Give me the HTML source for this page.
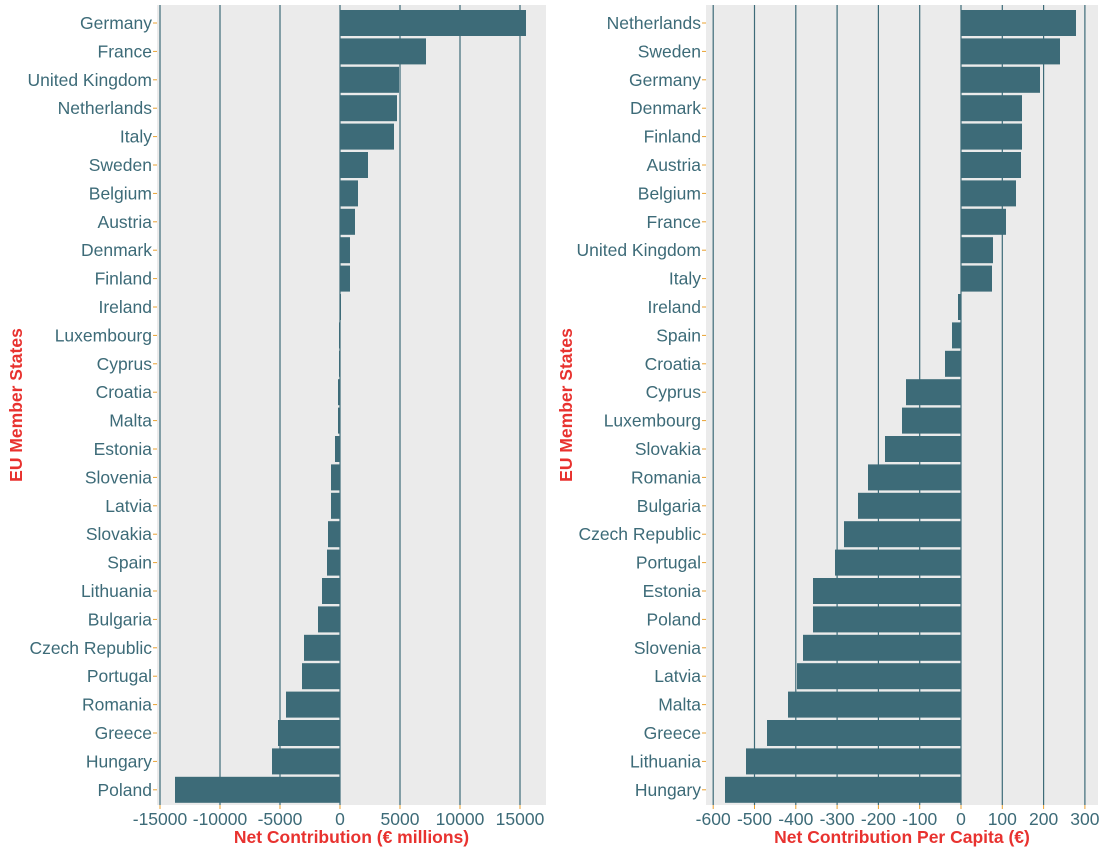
<!DOCTYPE html><html><head><style>body{margin:0;background:#fff}svg text{font-family:"Liberation Sans",sans-serif}</style></head><body>
<svg width="1100" height="850" xmlns="http://www.w3.org/2000/svg" id="s"></svg>
<script>
const s=document.getElementById('s');let h='';
function panel(L,R,zero,scale,ticks,data,title){
 h+=`<rect x="${L}" y="5" width="${R-L}" height="800" fill="#ebebeb"/>`;
 ticks.forEach((t,i)=>{const x=zero+t*scale;h+=`<line x1="${x}" y1="5" x2="${x}" y2="805" stroke="#3d6b78" stroke-width="1.2"/><line x1="${x}" y1="805" x2="${x}" y2="809" stroke="#e8a030"/><text x="${x}" y="825" font-size="17.5" fill="#3d6b78" text-anchor="middle">${t}</text>`;});
 data.forEach((d,i)=>{const y=23+i*28.4;const x2=d[1];const a=Math.min(zero,x2),w=Math.abs(x2-zero);
  h+=`<rect x="${a}" y="${y-13}" width="${w}" height="26" fill="#3d6b78"/><text x="${L-5}" y="${y+6}" font-size="17.5" fill="#3d6b78" text-anchor="end">${d[0]}</text><line x1="${L-4}" y1="${y}" x2="${L}" y2="${y}" stroke="#e8a030"/>`;});
 h+=`<text x="${(L+R)/2}" y="843" font-size="17.5" font-weight="bold" fill="#e8322f" text-anchor="middle">${title}</text>`;
}
panel(157,546,340,0.012,[-15000,-10000,-5000,0,5000,10000,15000],
[["Germany",526],["France",426],["United Kingdom",399],["Netherlands",397],["Italy",394],["Sweden",368],["Belgium",358],["Austria",355],["Denmark",350],["Finland",350],["Ireland",341],["Luxembourg",339],["Cyprus",339],["Croatia",338],["Malta",338],["Estonia",335],["Slovenia",331],["Latvia",331],["Slovakia",328],["Spain",327],["Lithuania",322],["Bulgaria",318],["Czech Republic",304],["Portugal",302],["Romania",286],["Greece",278],["Hungary",272],["Poland",175]],"Net Contribution (€ millions)");
panel(706,1098,961,0.413,[-600,-500,-400,-300,-200,-100,0,100,200,300],
[["Netherlands",1076],["Sweden",1060],["Germany",1040],["Denmark",1022],["Finland",1022],["Austria",1021],["Belgium",1016],["France",1006],["United Kingdom",993],["Italy",992],["Ireland",958],["Spain",952],["Croatia",945],["Cyprus",906],["Luxembourg",902],["Slovakia",885],["Romania",868],["Bulgaria",858],["Czech Republic",844],["Portugal",835],["Estonia",813],["Poland",813],["Slovenia",803],["Latvia",797],["Malta",788],["Greece",767],["Lithuania",746],["Hungary",725]],"Net Contribution Per Capita (€)");
h+=`<text transform="translate(22,405) rotate(-90)" font-size="17.5" font-weight="bold" fill="#e8322f" text-anchor="middle">EU Member States</text>`;
h+=`<text transform="translate(572,405) rotate(-90)" font-size="17.5" font-weight="bold" fill="#e8322f" text-anchor="middle">EU Member States</text>`;
s.innerHTML=h;
</script></body></html>
